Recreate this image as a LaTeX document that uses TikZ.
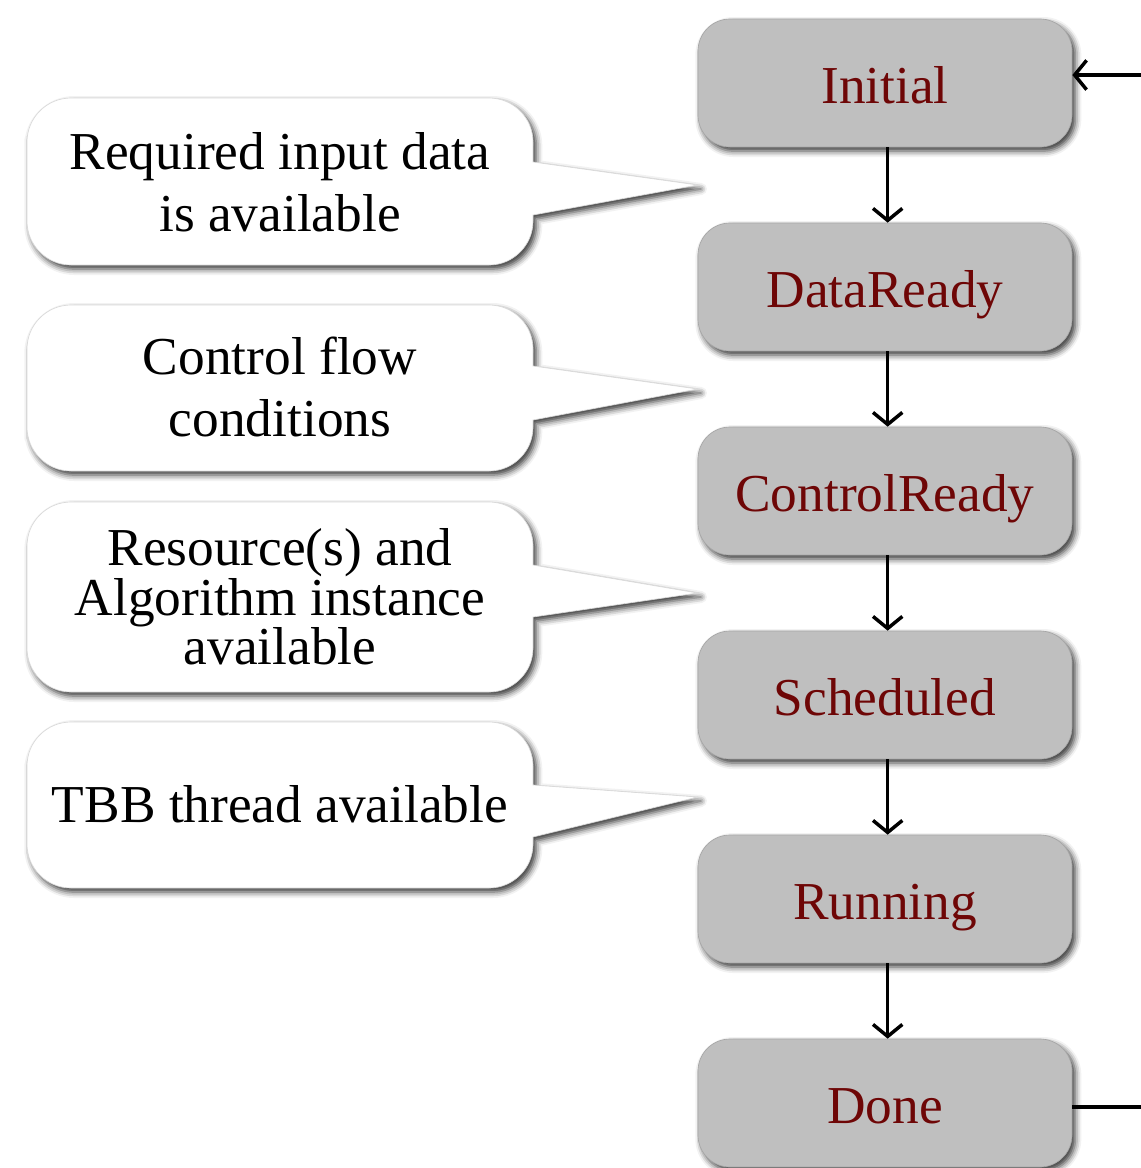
\documentclass[tikz,border=0pt]{standalone}
\usepackage{fontspec}
\setmainfont{Liberation Serif}
\usetikzlibrary{arrows.meta}
\usetikzlibrary{calc}
\usetikzlibrary{shadows.blur}
\definecolor{statered}{RGB}{110,6,6}
\tikzset{every picture/.style={line width=0.75pt}}
\tikzset{
  state/.style={rectangle, rounded corners=24pt, fill=gray!50, draw=black!35, line width=0.5pt,
    text=statered, minimum width=280.5pt, minimum height=96pt, inner sep=0pt,
    text height=30pt, text depth=0pt,
    font=\fontsize{40}{46}\selectfont,
    blur shadow={shadow xshift=2.5pt, shadow yshift=-3pt, shadow blur radius=4.5pt, shadow opacity=80}},
  bubble/.style={fill=white, draw=black!15, line width=0.5pt,
    blur shadow={shadow xshift=2.5pt, shadow yshift=-3pt, shadow blur radius=4.5pt, shadow opacity=80}},
  bubbletext/.style={align=center, inner sep=0pt, font=\fontsize{40}{46.5}\selectfont},
  flow/.style={line width=2.6pt, -{Straight Barb[length=9pt,width=22pt,line width=2.6pt]}}
}

\begin{document}
\begin{tikzpicture}[x=0.75pt,y=0.75pt,yscale=-1,xscale=1]
\useasboundingbox (0,0) rectangle (1140,1168);

% States
\node (Initial) at (885,83) [state] {Initial};
\node (DataReady) at (885,287) [state] {DataReady};
\node (ControlReady) at (885,491) [state] {ControlReady};
\node (Scheduled) at (885,695) [state] {Scheduled};
\node (Running) at (885,899) [state] {Running};
\node (Done) at (885,1103) [state] {Done};

% Transitions
\draw[flow] ([xshift=2pt]Initial.south) -- ([xshift=2pt]DataReady.north);
\draw[flow] ([xshift=2pt]DataReady.south) -- ([xshift=2pt]ControlReady.north);
\draw[flow] ([xshift=2pt]ControlReady.south) -- ([xshift=2pt]Scheduled.north);
\draw[flow] ([xshift=2pt]Scheduled.south) -- ([xshift=2pt]Running.north);
\draw[flow] ([xshift=2pt]Running.south) -- ([xshift=2pt]Done.north);

% Loop ends
\coordinate (loopIn) at (1145,75);
\coordinate (loopOut) at (1145,1107);
\draw[flow] (loopIn) -- (Initial.east |- loopIn);
\draw[line width=2.6pt] (Done.east |- loopOut) -- (loopOut);

% Callout tips
\coordinate (reqTip) at ($(Initial.south west)!0.5!(DataReady.north west)$);
\coordinate (ctrlTip) at ($(DataReady.south west)!0.5!(ControlReady.north west)$);
\coordinate (resTip) at ($(ControlReady.south west)!0.5!(Scheduled.north west)$);
\coordinate (tbbTip) at ($(Scheduled.south west)!0.5!(Running.north west)$);

% Callout: input data
\path[bubble] (27,180) [rounded corners=33pt] -- (27,98) -- (533,98) [sharp corners] -- (533,162) -- (reqTip) -- (533,215) [rounded corners=33pt] -- (533,265) -- (27,265) -- cycle;
\node (reqText) at (280,182) [bubbletext] {Required input data\\is available};

% Callout: control flow
\path[bubble] (27,390) [rounded corners=33pt] -- (27,305) -- (533,305) [sharp corners] -- (533,366) -- (ctrlTip) -- (533,420) [rounded corners=33pt] -- (533,471) -- (27,471) -- cycle;
\node (ctrlText) at (280,387) [bubbletext] {Control flow\\conditions};

% Callout: resources
\path[bubble] (27,600) [rounded corners=33pt] -- (27,502) -- (533,502) [sharp corners] -- (533,565) -- (resTip) -- (533,617) [rounded corners=33pt] -- (533,692) -- (27,692) -- cycle;
\node (resText) at (280,597) [bubbletext, font=\fontsize{40}{37}\selectfont] {Resource(s) and\\Algorithm instance\\available};

% Callout: thread
\path[bubble] (27,805) [rounded corners=33pt] -- (27,722) -- (533,722) [sharp corners] -- (533,785) -- (tbbTip) -- (533,837) [rounded corners=33pt] -- (533,888) -- (27,888) -- cycle;
\node (tbbText) at (280,804) [bubbletext] {TBB thread available};

\end{tikzpicture}
\end{document}
